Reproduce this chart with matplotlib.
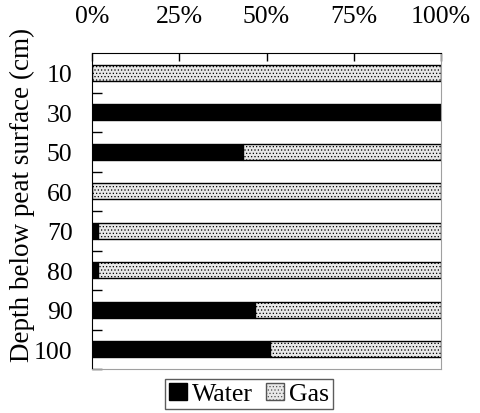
import numpy as np
import matplotlib
matplotlib.use("Agg")
import matplotlib.pyplot as plt
from matplotlib.patches import Patch

plt.rcParams['font.family'] = ['Liberation Serif', 'DejaVu Serif']
plt.rcParams['hatch.color'] = '#c8c8c8'
plt.rcParams['hatch.linewidth'] = 0.5

depths = ['10', '30', '50', '60', '70', '80', '90', '100']
water = np.array([0, 100, 43.4, 0, 1.8, 1.8, 46.7, 51.0])
gas = 100 - water

fig = plt.figure(figsize=(4.81, 4.14), dpi=100)
ax = fig.add_axes([92 / 481, 44 / 414, 349 / 481, 316 / 414])

y = np.arange(len(depths))
h = 0.41
ax.barh(y, water, height=h, color='black', edgecolor='black', linewidth=1)
ax.barh(y, gas, left=water, height=h, color='#e8e8e8', edgecolor='black',
        linewidth=1, hatch='.....')

ax.set_xlim(0, 100)
ax.set_ylim(len(depths) - 0.5, -0.5)

ax.xaxis.tick_top()
ax.set_xticks([0, 25, 50, 75, 100])
ax.set_xticklabels(['0%', '25%', '50%', '75%', '100%'], fontsize=18.5)
ax.tick_params(axis='x', direction='in', length=6, width=1, pad=19)

ax.set_yticks(y + 0.5)
ax.set_yticklabels([])
ax.set_yticks(y, minor=True)
ax.set_yticklabels(depths, minor=True, fontsize=18.5)
ax.tick_params(axis='y', which='major', direction='in', length=7, width=1)
ax.tick_params(axis='y', which='minor', length=0, pad=14)
ax.set_ylabel('Depth below peat surface (cm)', fontsize=19.5)
ax.yaxis.set_label_coords(-0.162, 0.554)

for s in ['right', 'bottom']:
    ax.spines[s].set_color('#a0a0a0')
for s in ['left', 'top']:
    ax.spines[s].set_color('black')

handles = [Patch(facecolor='black', edgecolor='black', label='Water'),
           Patch(facecolor='#e8e8e8', edgecolor='#555555', hatch='.....', label='Gas')]
fig.legend(handles=handles, loc='center', bbox_to_anchor=(249 / 481, 1 - 395 / 414),
           ncol=2, fontsize=18.5, frameon=True, fancybox=False, edgecolor='#333333',
           handlelength=0.7, handleheight=0.7, handletextpad=0.2, columnspacing=0.5,
           borderpad=0.15, borderaxespad=0)

fig.savefig('out.png', dpi=100)
